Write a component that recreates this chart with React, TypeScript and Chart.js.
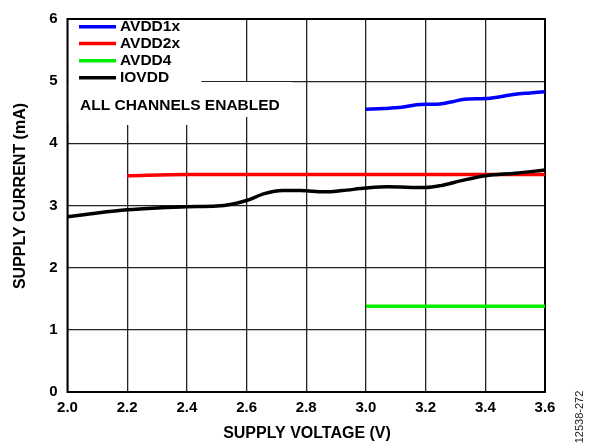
import React, { useEffect, useRef } from "react";
import { Chart, registerables } from "chart.js";

Chart.register(...registerables);

const xTicks = [2.0, 2.2, 2.4, 2.6, 2.8, 3.0, 3.2, 3.4, 3.6];
const yTicks = [0, 1, 2, 3, 4, 5, 6];

const avdd1xV = [3.0, 3.06, 3.12, 3.17, 3.2, 3.24, 3.29, 3.33, 3.4, 3.45, 3.5, 3.55, 3.6];
const avdd1xI = [4.55, 4.56, 4.58, 4.62, 4.63, 4.63, 4.67, 4.71, 4.72, 4.75, 4.79, 4.81, 4.83];

const avdd2xV = [2.2, 2.4, 3.0, 3.6];
const avdd2xI = [3.48, 3.5, 3.5, 3.5];

const avdd4V = [3.0, 3.6];
const avdd4I = [1.38, 1.38];

const iovddV = [2.0, 2.1, 2.2, 2.3, 2.4, 2.5, 2.55, 2.6, 2.66, 2.72, 2.78, 2.86, 2.92, 3.0, 3.07, 3.2, 3.25, 3.32, 3.4, 3.5, 3.6];
const iovddI = [2.82, 2.88, 2.93, 2.96, 2.98, 2.99, 3.02, 3.08, 3.19, 3.24, 3.24, 3.22, 3.24, 3.28, 3.3, 3.29, 3.32, 3.4, 3.48, 3.52, 3.57];

const seriesNames = ["AVDD1x", "AVDD2x", "AVDD4", "IOVDD"];
const seriesColors = ["#0000ff", "#ff0000", "#00ee00", "#000000"];

const FONT = "'Liberation Sans', Arial, sans-serif";

const pts = (xs: number[], ys: number[]) => xs.map((x, i) => ({ x, y: ys[i] }));

const decorPlugin = {
  id: "decor",
  beforeDatasetsDraw(chart: any) {
    const { ctx, chartArea: a } = chart;
    ctx.save();
    // white boxes behind legend and note
    ctx.fillStyle = "#ffffff";
    ctx.fillRect(a.left + 1, a.top + 1, 133, 105);
    ctx.fillRect(a.left + 1, 82, 224, 35);
    // frame
    ctx.strokeStyle = "#000";
    ctx.lineWidth = 2;
    ctx.strokeRect(a.left, a.top, a.right - a.left, a.bottom - a.top);
    // legend
    const rows = [26.7, 43.5, 60.7, 77.7];
    ctx.font = `bold 15.5px ${FONT}`;
    ctx.textBaseline = "middle";
    ctx.textAlign = "left";
    seriesNames.forEach((n, i) => {
      ctx.strokeStyle = seriesColors[i];
      ctx.lineWidth = 3.5;
      ctx.beginPath();
      ctx.moveTo(79, rows[i]);
      ctx.lineTo(116, rows[i]);
      ctx.stroke();
      ctx.fillStyle = "#000";
      ctx.fillText(n, 120, rows[i] + 0.5);
    });
    ctx.fillText("ALL CHANNELS ENABLED", 80, 106);
    ctx.restore();
  },
  afterDraw(chart: any) {
    const { ctx } = chart;
    ctx.save();
    ctx.fillStyle = "#000";
    ctx.font = `bold 16px ${FONT}`;
    ctx.textAlign = "center";
    ctx.textBaseline = "middle";
    ctx.fillText("SUPPLY VOLTAGE (V)", 307, 434);
    ctx.save();
    ctx.translate(21, 196);
    ctx.rotate(-Math.PI / 2);
    ctx.fillText("SUPPLY CURRENT (mA)", 0, 0);
    ctx.restore();
    ctx.save();
    ctx.font = `11px ${FONT}`;
    ctx.fillStyle = "#222";
    ctx.translate(580, 417);
    ctx.rotate(-Math.PI / 2);
    ctx.fillText("12538-272", 0, 0);
    ctx.restore();
    ctx.restore();
  },
};

export default function App() {
  const ref = useRef<HTMLCanvasElement | null>(null);
  useEffect(() => {
    if (!ref.current) return;
    const lineDs = (i: number, xs: number[], ys: number[], order: number) => ({
      label: seriesNames[i],
      data: pts(xs, ys),
      borderColor: seriesColors[i],
      backgroundColor: seriesColors[i],
      borderWidth: 3.5,
      pointRadius: 0,
      cubicInterpolationMode: "monotone" as const,
      fill: false,
      order,
    });
    const chart = new Chart(ref.current, {
      type: "line",
      data: {
        datasets: [
          lineDs(3, iovddV, iovddI, 0),
          lineDs(0, avdd1xV, avdd1xI, 1),
          lineDs(1, avdd2xV, avdd2xI, 2),
          lineDs(2, avdd4V, avdd4I, 3),
        ],
      },
      options: {
        animation: false,
        responsive: false,
        devicePixelRatio: 1,
        layout: { padding: { top: 11.5, right: 50, left: 0, bottom: 0 } },
        plugins: { legend: { display: false }, tooltip: { enabled: false } },
        scales: {
          x: {
            type: "linear",
            min: 2.0,
            max: 3.6,
            afterFit: (s: any) => {
              s.height = 54;
            },
            afterBuildTicks: (s: any) => {
              s.ticks = xTicks.map((v) => ({ value: v }));
            },
            ticks: {
              color: "#000",
              font: { family: FONT, size: 15, weight: "bold" },
              padding: 7,
              maxRotation: 0,
              autoSkip: false,
              callback: (v: any) => Number(v).toFixed(1),
            },
            grid: { color: "#222", lineWidth: 1.3, drawTicks: false },
            border: { display: false },
          },
          y: {
            type: "linear",
            min: 0,
            max: 6,
            afterFit: (s: any) => {
              s.width = 67.5;
            },
            afterBuildTicks: (s: any) => {
              s.ticks = yTicks.map((v) => ({ value: v }));
            },
            ticks: {
              color: "#000",
              font: { family: FONT, size: 15, weight: "bold" },
              padding: 10,
              autoSkip: false,
              callback: (v: any) => String(v),
            },
            grid: { color: "#222", lineWidth: 1.3, drawTicks: false },
            border: { display: false },
          },
        },
      },
      plugins: [decorPlugin],
    });
    return () => chart.destroy();
  }, []);
  return (
    <div style={{ position: "absolute", left: 0, top: 0, width: 595, height: 446, background: "#fff" }}>
      <canvas ref={ref} width={595} height={446} style={{ width: 595, height: 446, display: "block" }} />
    </div>
  );
}
